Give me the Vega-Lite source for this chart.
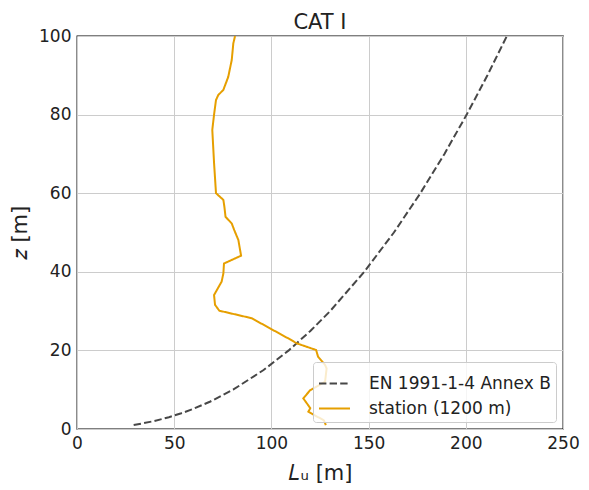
{
  "$schema": "https://vega.github.io/schema/vega-lite/v6.json",
  "width": 486,
  "height": 393,
  "autosize": {"type": "none"},
  "padding": {"left": 77, "top": 36, "right": 26, "bottom": 61},
  "background": "white",
  "title": {
    "text": "CAT I",
    "fontSize": 21,
    "fontWeight": "normal",
    "font": "DejaVu Sans",
    "color": "#222222",
    "anchor": "middle",
    "offset": 7,
    "dy": 13
  },
  "data": {
    "values": [
      {"series": "EN 1991-1-4 Annex B", "L": 29.15, "z": 1},
      {"series": "EN 1991-1-4 Annex B", "L": 39.55, "z": 2},
      {"series": "EN 1991-1-4 Annex B", "L": 47.27, "z": 3},
      {"series": "EN 1991-1-4 Annex B", "L": 53.65, "z": 4},
      {"series": "EN 1991-1-4 Annex B", "L": 59.19, "z": 5},
      {"series": "EN 1991-1-4 Annex B", "L": 68.63, "z": 7},
      {"series": "EN 1991-1-4 Annex B", "L": 80.29, "z": 10},
      {"series": "EN 1991-1-4 Annex B", "L": 95.98, "z": 15},
      {"series": "EN 1991-1-4 Annex B", "L": 108.92, "z": 20},
      {"series": "EN 1991-1-4 Annex B", "L": 120.16, "z": 25},
      {"series": "EN 1991-1-4 Annex B", "L": 130.2, "z": 30},
      {"series": "EN 1991-1-4 Annex B", "L": 147.77, "z": 40},
      {"series": "EN 1991-1-4 Annex B", "L": 163.01, "z": 50},
      {"series": "EN 1991-1-4 Annex B", "L": 176.63, "z": 60},
      {"series": "EN 1991-1-4 Annex B", "L": 189.02, "z": 70},
      {"series": "EN 1991-1-4 Annex B", "L": 200.46, "z": 80},
      {"series": "EN 1991-1-4 Annex B", "L": 211.13, "z": 90},
      {"series": "EN 1991-1-4 Annex B", "L": 221.14, "z": 100},
      {"series": "station (1200 m)", "L": 128.0, "z": 1.0},
      {"series": "station (1200 m)", "L": 127.0, "z": 2.2},
      {"series": "station (1200 m)", "L": 119.0, "z": 4.4},
      {"series": "station (1200 m)", "L": 120.0, "z": 5.3},
      {"series": "station (1200 m)", "L": 116.4, "z": 7.8},
      {"series": "station (1200 m)", "L": 120.0, "z": 9.9},
      {"series": "station (1200 m)", "L": 127.6, "z": 12.0},
      {"series": "station (1200 m)", "L": 128.4, "z": 15.4},
      {"series": "station (1200 m)", "L": 127.6, "z": 16.3},
      {"series": "station (1200 m)", "L": 124.0, "z": 18.4},
      {"series": "station (1200 m)", "L": 123.0, "z": 20.1},
      {"series": "station (1200 m)", "L": 113.0, "z": 21.8},
      {"series": "station (1200 m)", "L": 109.6, "z": 22.8},
      {"series": "station (1200 m)", "L": 99.3, "z": 25.6},
      {"series": "station (1200 m)", "L": 89.8, "z": 28.2},
      {"series": "station (1200 m)", "L": 73.2, "z": 30.1},
      {"series": "station (1200 m)", "L": 71.0, "z": 31.6},
      {"series": "station (1200 m)", "L": 70.5, "z": 34.1},
      {"series": "station (1200 m)", "L": 74.4, "z": 37.5},
      {"series": "station (1200 m)", "L": 75.3, "z": 39.6},
      {"series": "station (1200 m)", "L": 75.6, "z": 42.1},
      {"series": "station (1200 m)", "L": 84.4, "z": 44.1},
      {"series": "station (1200 m)", "L": 83.0, "z": 48.1},
      {"series": "station (1200 m)", "L": 80.9, "z": 50.6},
      {"series": "station (1200 m)", "L": 79.6, "z": 52.3},
      {"series": "station (1200 m)", "L": 76.4, "z": 54.0},
      {"series": "station (1200 m)", "L": 75.8, "z": 56.6},
      {"series": "station (1200 m)", "L": 75.3, "z": 58.3},
      {"series": "station (1200 m)", "L": 71.5, "z": 60.0},
      {"series": "station (1200 m)", "L": 70.5, "z": 67.7},
      {"series": "station (1200 m)", "L": 69.6, "z": 76.1},
      {"series": "station (1200 m)", "L": 70.5, "z": 80.0},
      {"series": "station (1200 m)", "L": 71.5, "z": 83.7},
      {"series": "station (1200 m)", "L": 72.7, "z": 85.0},
      {"series": "station (1200 m)", "L": 75.3, "z": 86.3},
      {"series": "station (1200 m)", "L": 77.8, "z": 89.6},
      {"series": "station (1200 m)", "L": 79.6, "z": 93.9},
      {"series": "station (1200 m)", "L": 80.4, "z": 98.1},
      {"series": "station (1200 m)", "L": 81.3, "z": 100.0}
    ]
  },
  "mark": {"type": "line", "strokeWidth": 2, "clip": true},
  "encoding": {
    "x": {
      "field": "L",
      "type": "quantitative",
      "scale": {"domain": [0, 250], "nice": false, "zero": false},
      "axis": {
        "title": "𝐿ᵤ [m]",
        "values": [0, 50, 100, 150, 200, 250],
        "labelFlush": false,
        "titleY": 50,
        "titleBaseline": "alphabetic"
      }
    },
    "y": {
      "field": "z",
      "type": "quantitative",
      "scale": {"domain": [0, 100], "nice": false, "zero": false},
      "axis": {
        "title": "𝑧 [m]",
        "values": [0, 20, 40, 60, 80, 100],
        "labelFlush": false,
        "titleX": -57,
        "titleBaseline": "middle"
      }
    },
    "order": {"field": "z", "type": "quantitative"},
    "color": {
      "field": "series",
      "type": "nominal",
      "scale": {
        "domain": ["EN 1991-1-4 Annex B", "station (1200 m)"],
        "range": ["#474747", "#E69F00"]
      },
      "legend": {"title": null}
    },
    "strokeDash": {
      "field": "series",
      "type": "nominal",
      "scale": {
        "domain": ["EN 1991-1-4 Annex B", "station (1200 m)"],
        "range": [[7.4, 3.2], [1, 0]]
      },
      "legend": {"title": null}
    }
  },
  "config": {
    "font": "DejaVu Sans",
    "view": {"stroke": "#000000", "strokeWidth": 1.3},
    "axis": {
      "domain": false,
      "ticks": false,
      "grid": true,
      "gridColor": "#cccccc",
      "gridWidth": 1,
      "labelFont": "DejaVu Sans",
      "labelFontSize": 17,
      "labelColor": "#222222",
      "labelPadding": 6,
      "titleFont": "DejaVu Sans",
      "titleFontSize": 21,
      "titleFontWeight": "normal",
      "titleColor": "#222222"
    },
    "legend": {
      "orient": "bottom-right",
      "offset": 7,
      "fillColor": "rgba(255,255,255,0.8)",
      "strokeColor": "#cccccc",
      "cornerRadius": 3,
      "padding": 5,
      "symbolType": "stroke",
      "symbolSize": 961,
      "symbolStrokeWidth": 2,
      "labelFont": "DejaVu Sans",
      "labelFontSize": 17,
      "labelColor": "#222222",
      "labelOffset": 18,
      "rowPadding": -3,
      "labelLimit": 300
    }
  }
}
